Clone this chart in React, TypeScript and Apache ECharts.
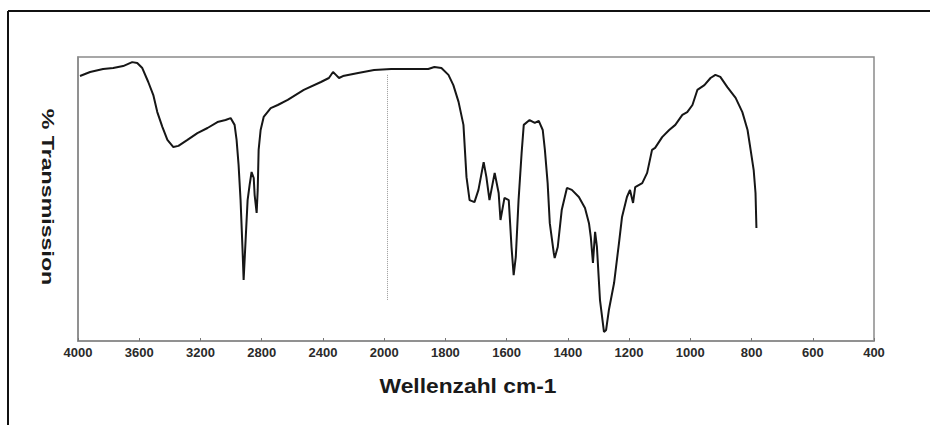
import React, { useEffect, useRef } from "react";
import * as echarts from "echarts";

// Wavenumbers (cm-1)
const WAVENUMBERS = [
  3987, 3921, 3836, 3770, 3705, 3646, 3613, 3580, 3541, 3508, 3482, 3449, 3416, 3377, 3344, 3285,
  3220, 3154, 3089, 3036, 3003, 2977, 2964, 2951, 2938, 2925, 2918, 2905, 2892, 2879, 2866, 2852,
  2846, 2833, 2826, 2820, 2807, 2787, 2741, 2695, 2630, 2525, 2413, 2361, 2334, 2315, 2295, 2269,
  2170, 2066, 1977, 1911, 1856, 1836, 1813, 1790, 1774, 1757, 1741, 1731, 1721, 1705, 1692, 1675,
  1666, 1656, 1639, 1626, 1620, 1607, 1593, 1584, 1577, 1570, 1561, 1551, 1544, 1525, 1508, 1495,
  1482, 1475, 1466, 1459, 1446, 1443, 1433, 1420, 1403, 1387, 1364, 1344, 1331, 1325, 1318, 1311,
  1305, 1295, 1282, 1275, 1266, 1249, 1233, 1223, 1207, 1197, 1187, 1180, 1157, 1141, 1125, 1115,
  1092, 1069, 1049, 1026, 1010, 993, 977, 954, 934, 918, 902, 879, 852, 830, 813, 803, 793, 787, 784,
];

// % Transmission at each wavenumber
const TRANSMISSION = [
  93.3, 94.7, 95.8, 96.1, 96.8, 98.2, 97.9, 96.1, 91.2, 86.6, 80.6, 75.4, 70.8, 68.3, 68.7, 70.8,
  73.2, 75.0, 77.1, 77.8, 78.5, 76.1, 70.8, 62.0, 49.6, 32.0, 21.5, 35.6, 49.6, 54.9, 59.5, 57.4,
  51.4, 45.1, 53.2, 67.3, 74.3, 78.9, 82.0, 83.1, 84.9, 88.4, 91.2, 92.6, 94.7, 93.7, 92.6, 93.3,
  94.4, 95.4, 95.8, 95.8, 95.8, 96.5, 96.1, 93.7, 90.1, 84.2, 76.1, 57.7, 49.6, 48.9, 53.2, 63.0,
  57.7, 49.6, 59.2, 52.1, 42.6, 50.4, 49.6, 33.1, 23.2, 29.6, 49.6, 66.2, 76.1, 77.8, 76.8, 77.5,
  74.3, 67.3, 55.6, 41.5, 31.0, 29.2, 33.1, 46.1, 53.9, 53.2, 50.7, 46.8, 41.5, 36.6, 27.5, 38.4,
  33.1, 14.4, 3.2, 3.9, 10.9, 20.4, 34.5, 43.7, 50.7, 53.2, 48.6, 54.2, 55.6, 59.2, 67.3, 68.0,
  71.8, 74.3, 76.1, 79.6, 80.6, 83.1, 88.4, 90.1, 92.6, 93.7, 93.0, 89.4, 85.6, 80.6, 74.3, 67.3,
  60.2, 52.1, 39.8,
];

const TICK_LABELS = [
  "4000", "3600", "3200", "2800", "2400", "2000", "1800", "1600", "1400", "1200", "1000", "800", "600", "400",
];

// Instrument scale change at 2000 cm-1 (marked by the dotted line)
const SCALE_BREAK = 2000;
const MARKER_LINE_WN = 1990;
const MARKER_LINE_RANGE = [93.7, 14.4];

// Axis position: 400 cm-1 per unit above 2000, 200 cm-1 per unit below
const toPos = (w: number) => (w >= SCALE_BREAK ? (4000 - w) / 400 : 5 + (SCALE_BREAK - w) / 200);

const FONT = "'Liberation Sans', Arial, Helvetica, sans-serif";

export default function App() {
  const ref = useRef<HTMLDivElement>(null);

  useEffect(() => {
    if (!ref.current) return;
    const chart = echarts.init(ref.current, undefined, { renderer: "svg" });
    const data = WAVENUMBERS.map((w, i) => [toPos(w), TRANSMISSION[i]]);

    chart.setOption({
      animation: false,
      backgroundColor: "#ffffff",
      grid: {
        left: 78,
        right: 56,
        top: 57,
        bottom: 84,
        show: true,
        borderColor: "#8a8a8a",
        borderWidth: 1.5,
        backgroundColor: "transparent",
      },
      xAxis: {
        type: "value",
        min: 0,
        max: TICK_LABELS.length - 1,
        interval: 1,
        axisLine: { show: true, lineStyle: { color: "#8a8a8a", width: 1.5 } },
        axisTick: { show: true, inside: true, length: 3, lineStyle: { color: "#777" } },
        splitLine: { show: false },
        axisLabel: {
          margin: 5,
          fontFamily: FONT,
          fontWeight: "bold",
          fontSize: 13,
          color: "#2a2a2a",
          formatter: (v: number) => TICK_LABELS[Math.round(v)] ?? "",
        },
      },
      yAxis: {
        type: "value",
        min: 0,
        max: 100,
        axisLine: { show: true, lineStyle: { color: "#8a8a8a", width: 1.5 } },
        axisTick: { show: false },
        axisLabel: { show: false },
        splitLine: { show: false },
      },
      graphic: [
        {
          type: "line",
          shape: { x1: 8, y1: 11, x2: 930, y2: 11 },
          style: { stroke: "#111", lineWidth: 2 },
        },
        {
          type: "line",
          shape: { x1: 8, y1: 11, x2: 8, y2: 425 },
          style: { stroke: "#111", lineWidth: 2 },
        },
        {
          type: "text",
          x: 48,
          y: 197,
          rotation: -Math.PI / 2,
          scaleX: 1.45,
          style: {
            text: "% Transmission",
            font: `bold 16px ${FONT}`,
            fill: "#1a1a1a",
            align: "center",
            verticalAlign: "middle",
            textAlign: "center",
            textVerticalAlign: "middle",
          },
        },
        {
          type: "text",
          x: 468,
          y: 386,
          scaleX: 1.14,
          style: {
            text: "Wellenzahl cm-1",
            font: `bold 20px ${FONT}`,
            fill: "#1a1a1a",
            align: "center",
            verticalAlign: "middle",
            textAlign: "center",
            textVerticalAlign: "middle",
          },
        },
      ],
      series: [
        {
          type: "line",
          data,
          showSymbol: false,
          symbol: "none",
          lineStyle: { color: "#161616", width: 2 },
          markLine: {
            silent: true,
            symbol: "none",
            label: { show: false },
            lineStyle: { color: "#9a9a9a", type: "dotted", width: 1 },
            data: [
              [
                { coord: [toPos(MARKER_LINE_WN), MARKER_LINE_RANGE[0]] },
                { coord: [toPos(MARKER_LINE_WN), MARKER_LINE_RANGE[1]] },
              ],
            ],
          },
        },
      ],
    });

    return () => chart.dispose();
  }, []);

  return (
    <div
      ref={ref}
      style={{ position: "fixed", left: 0, top: 0, width: 930, height: 425, background: "#fff" }}
    />
  );
}
